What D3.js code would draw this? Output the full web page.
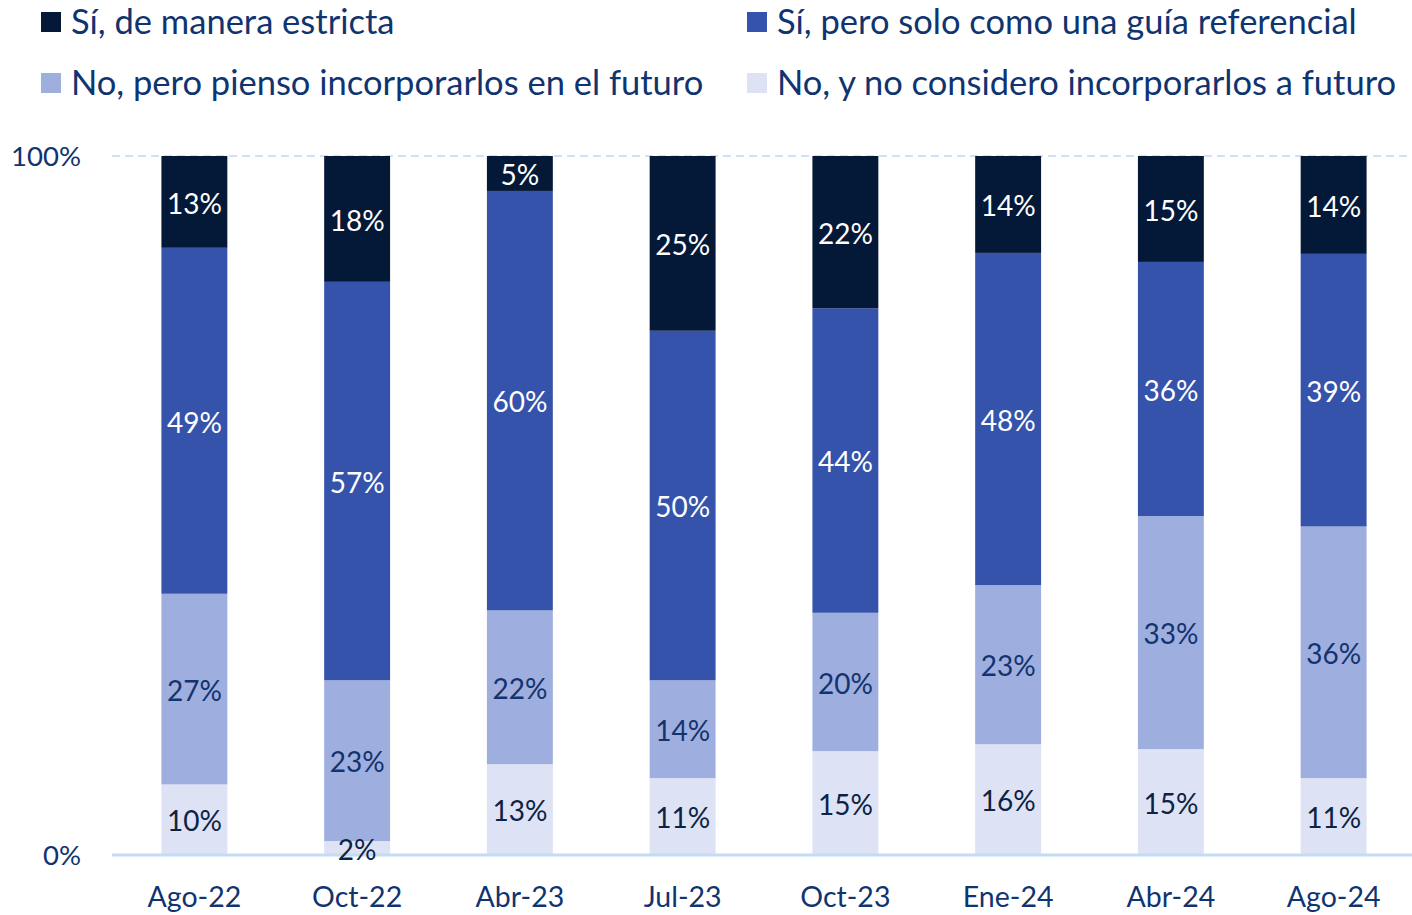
<!DOCTYPE html>
<html>
<head>
<meta charset="utf-8">
<script src="https://cdn.jsdelivr.net/npm/d3@7"></script>
<style>
    body { margin: 0; background: #fff; }
    svg text { font-family: Lato, "Open Sans", sans-serif; }
</style>
</head>
<body>
<svg id="chart" width="1412" height="915"></svg>
<script>
'use strict';

// Data
const periods = ['Ago-22', 'Oct-22', 'Abr-23', 'Jul-23', 'Oct-23', 'Ene-24', 'Abr-24', 'Ago-24'];
const seriesNames = [
    'No, y no considero incorporarlos a futuro',
    'No, pero pienso incorporarlos en el futuro',
    'Sí, pero solo como una guía referencial',
    'Sí, de manera estricta'
];
const noNunca = [10, 2, 13, 11, 15, 16, 15, 11];
const noFuturo = [27, 23, 22, 14, 20, 23, 33, 36];
const siGuia = [49, 57, 60, 50, 44, 48, 36, 39];
const siEstricta = [13, 18, 5, 25, 22, 14, 15, 14];
const yTicks = [0, 1];

(function () {

    const svg = d3.select('#chart');

    // Config
    const margin = {'top': 156, 'right': 0, 'bottom': 60, 'left': 112};
    const width = +svg.attr('width') - margin.left - margin.right;
    const height = +svg.attr('height') - margin.top - margin.bottom;

    const colors = ['#dde2f4', '#9eaedf', '#3553ab', '#041838'];
    const labelColors = ['#0d2345', '#13336e', '#ffffff', '#ffffff'];
    const textColor = '#0f3470';

    // Build table
    const keys = ['nunca', 'futuro', 'guia', 'estricta'];
    const rows = periods.map((p, i) => ({
        'period': p,
        'nunca': noNunca[i],
        'futuro': noFuturo[i],
        'guia': siGuia[i],
        'estricta': siEstricta[i]
    }));

    const stacked = d3.stack()
        .keys(keys)
        .offset(d3.stackOffsetExpand)(rows);

    const container = svg.append('g')
        .attr('transform', `translate(${margin.left}, ${margin.top})`);

    // Scales
    const scX = d3.scaleBand()
        .domain(periods)
        .range([1, width + 3])
        .paddingInner(0.595)
        .paddingOuter(0.2975);

    const scY = d3.scaleLinear()
        .domain([0, 1])
        .range([height, 0]);

    // 100% gridline
    container.append('line')
        .attr('x1', 0)
        .attr('x2', width)
        .attr('y1', scY(1))
        .attr('y2', scY(1))
        .style('stroke', '#cfe1f5')
        .style('stroke-width', 2)
        .style('stroke-dasharray', '8,5');

    // Bars
    const layers = container.selectAll('.layer')
        .data(stacked)
        .enter()
        .append('g')
            .attr('class', 'layer')
            .style('fill', (d, i) => colors[i]);

    layers.selectAll('rect')
        .data((d) => d)
        .enter()
        .append('rect')
            .attr('x', (d) => scX(d.data.period))
            .attr('y', (d) => scY(d[1]))
            .attr('width', scX.bandwidth())
            .attr('height', (d) => scY(d[0]) - scY(d[1]));

    // Baseline
    const xAxis = container.append('g')
        .attr('class', 'x axis')
        .attr('transform', `translate(0, ${height})`)
        .call(d3.axisBottom(scX).tickSize(0).tickPadding(32));

    xAxis.select('.domain')
        .attr('d', `M0,0H${width}`)
        .style('stroke', '#c3dbf5')
        .style('stroke-width', 3);

    xAxis.selectAll('text')
        .style('font-size', '28.5px')
        .style('fill', textColor);

    // Y axis labels
    const yAxis = container.append('g')
        .attr('class', 'y axis')
        .attr('transform', 'translate(-28, 0)')
        .call(d3.axisLeft(scY).tickValues(yTicks).tickFormat(d3.format('.0%')).tickSize(0));

    yAxis.select('.domain').remove();
    yAxis.selectAll('text')
        .style('font-size', '27.5px')
        .style('fill', textColor)
        .attr('dy', '0.36em');

    // Data labels (drawn on top of the baseline)
    const labels = container.append('g').attr('class', 'labels');
    stacked.forEach((layer, li) => {
        labels.selectAll(`.lbl-${li}`)
            .data(layer)
            .enter()
            .append('text')
                .attr('class', `lbl-${li}`)
                .attr('x', (d) => scX(d.data.period) + scX.bandwidth() / 2)
                .attr('y', (d) => (scY(d[0]) + scY(d[1])) / 2)
                .attr('dy', '0.42em')
                .attr('text-anchor', 'middle')
                .style('font-size', '28px')
                .style('fill', labelColors[li])
                .text((d) => d.data[layer.key] + '%');
    });

    // Legend
    const legendItems = [
        {'name': seriesNames[3], 'color': colors[3], 'x': 41, 'y': 22},
        {'name': seriesNames[2], 'color': colors[2], 'x': 747, 'y': 22},
        {'name': seriesNames[1], 'color': colors[1], 'x': 41, 'y': 83},
        {'name': seriesNames[0], 'color': colors[0], 'x': 747, 'y': 83}
    ];

    const legend = svg.selectAll('.legend')
        .data(legendItems)
        .enter()
        .append('g')
            .attr('class', 'legend')
            .attr('transform', (d) => `translate(${d.x}, ${d.y})`);

    legend.append('rect')
        .attr('x', 0)
        .attr('y', -10)
        .attr('width', 20)
        .attr('height', 20)
        .style('fill', (d) => d.color);

    legend.append('text')
        .attr('x', 30)
        .attr('dy', '0.36em')
        .style('font-size', '34.5px')
        .style('fill', textColor)
        .text((d) => d.name);

})();
</script>
</body>
</html>
